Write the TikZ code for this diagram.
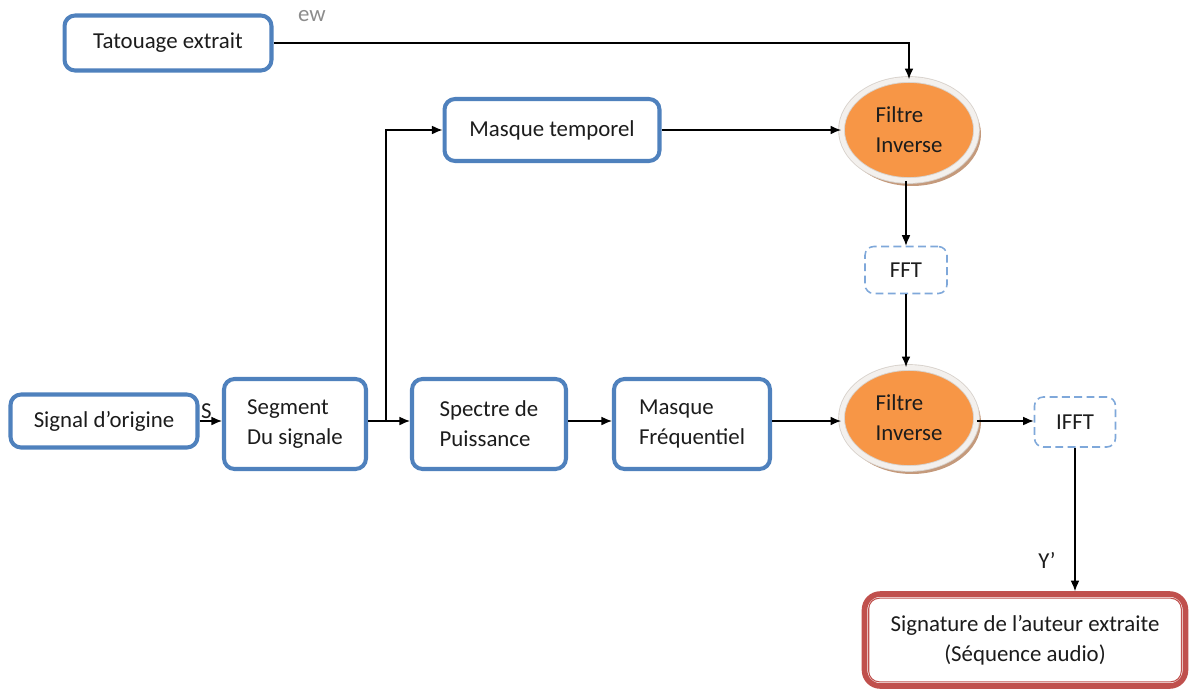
\documentclass[tikz,border=0pt]{standalone}
\usepackage{fontspec}
\setmainfont{Carlito}
\usetikzlibrary{shapes.geometric,arrows.meta,calc}

\definecolor{boxblue}{HTML}{4F81BD}
\definecolor{dashblue}{HTML}{7FA8DA}
\definecolor{filtorange}{HTML}{F79646}
\definecolor{rimgray}{HTML}{F3F0ED}
\definecolor{rimedge}{HTML}{D8D2CC}
\definecolor{shadowbrown}{HTML}{C49A7C}
\definecolor{sigred}{HTML}{C0504D}
\definecolor{txt}{HTML}{1C1C1C}
\definecolor{labgray}{HTML}{8C8C8C}

\begin{document}
\begin{tikzpicture}[x=0.02cm, y=-0.02cm,
  font=\fontsize{13}{17}\selectfont, text=txt,
  blockbox/.style={draw=boxblue, line width=2.3pt, rounded corners=6pt,
    fill=white, align=left, inner sep=0pt},
  dashbox/.style={draw=dashblue, line width=0.9pt, dash pattern=on 4.5pt off 2.5pt,
    rounded corners=5pt, fill=white, align=left, inner sep=0pt,
    minimum width=1.64cm, minimum height=0.94cm},
  filter/.style={ellipse, fill=filtorange, draw=rimedge, line width=0.5pt,
    double=rimgray, double distance=2.8pt,
    minimum width=2.7cm, minimum height=2.02cm, align=left, inner sep=0pt},
  arr/.style={-{Latex[length=6pt,width=5pt]}, line width=0.7pt, black},
  lbl/.style={inner sep=1pt, text=txt}
]
\useasboundingbox (0,0) rectangle (1191,691);

% input blocks
\node[blockbox, minimum width=4.14cm, minimum height=1.1cm] (tat) at (168,43) {Tatouage extrait};
\node[blockbox, minimum width=4.3cm, minimum height=1.24cm] (mtemp) at (552,130) {Masque temporel};
\node[blockbox, minimum width=3.74cm, minimum height=1.06cm] (orig) at (104,421) {Signal d’origine};
\node[blockbox, minimum width=2.84cm, minimum height=1.8cm] (seg) at (295,424) {Segment\\Du signale};
\node[blockbox, minimum width=3.08cm, minimum height=1.8cm] (spec) at (489,424) {Spectre de\\Puissance};
\node[blockbox, minimum width=3.12cm, minimum height=1.8cm] (mfreq) at (692,424) {Masque\\Fréquentiel};

% inverse filters with their drop shadows
\fill[shadowbrown] (912,134) ellipse (1.38cm and 1.04cm);
\node[filter] (f1) at (909,130) {Filtre\\Inverse};
\fill[shadowbrown] (912,422) ellipse (1.38cm and 1.04cm);
\node[filter] (f2) at (909,418) {Filtre\\Inverse};

% transforms
\node[dashbox] (fft) at (906,270) {FFT};
\node[dashbox, minimum width=1.62cm, minimum height=1.0cm] (ifft) at (1075,422) {IFFT};

% output block with double red frame
\node[draw=sigred, line width=3.2pt, rounded corners=9pt, fill=white, align=center,
  inner sep=0pt, minimum width=6.42cm, minimum height=1.84cm] (sig) at (1025,640)
  {Signature de l’auteur extraite\\(Séquence audio)};
\draw[sigred, line width=0.6pt, rounded corners=6pt]
  ($(sig.north west)+(7,7)$) rectangle ($(sig.south east)+(-7,-7)$);

% connectors
\draw[arr] (tat.east) -- (tat.east -| f1.north) -- (f1.north);
\node[lbl, text=labgray, anchor=west] (ew) at (296,16) {ew};
\draw[arr] (mtemp.east) -- (mtemp.east -| f1.west);
\draw[arr] (f1.south -| fft.north) -- (fft.north);
\draw[arr] (fft.south) -- (fft.south |- f2.north);
\draw[arr] (orig.east) -- (orig.east -| seg.west) node[lbl, pos=0.3, above] (s) {S};
\draw[arr] (seg.east |- orig.east) -- (orig.east -| spec.west);
\coordinate (br) at ($(seg.east |- orig.east)!0.43!(orig.east -| spec.west)$);
\draw[arr] (br) |- (mtemp.west);
\draw[arr] (spec.east |- orig.east) -- (orig.east -| mfreq.west);
\draw[arr] (mfreq.east |- orig.east) -- (orig.east -| f2.west);
\draw[arr] (f2.east |- orig.east) -- (orig.east -| ifft.west);
\draw[arr] (ifft.south) -- (ifft.south |- sig.north);
\node[lbl] (yp) at (1047,560) {Y’};
\end{tikzpicture}
\end{document}
